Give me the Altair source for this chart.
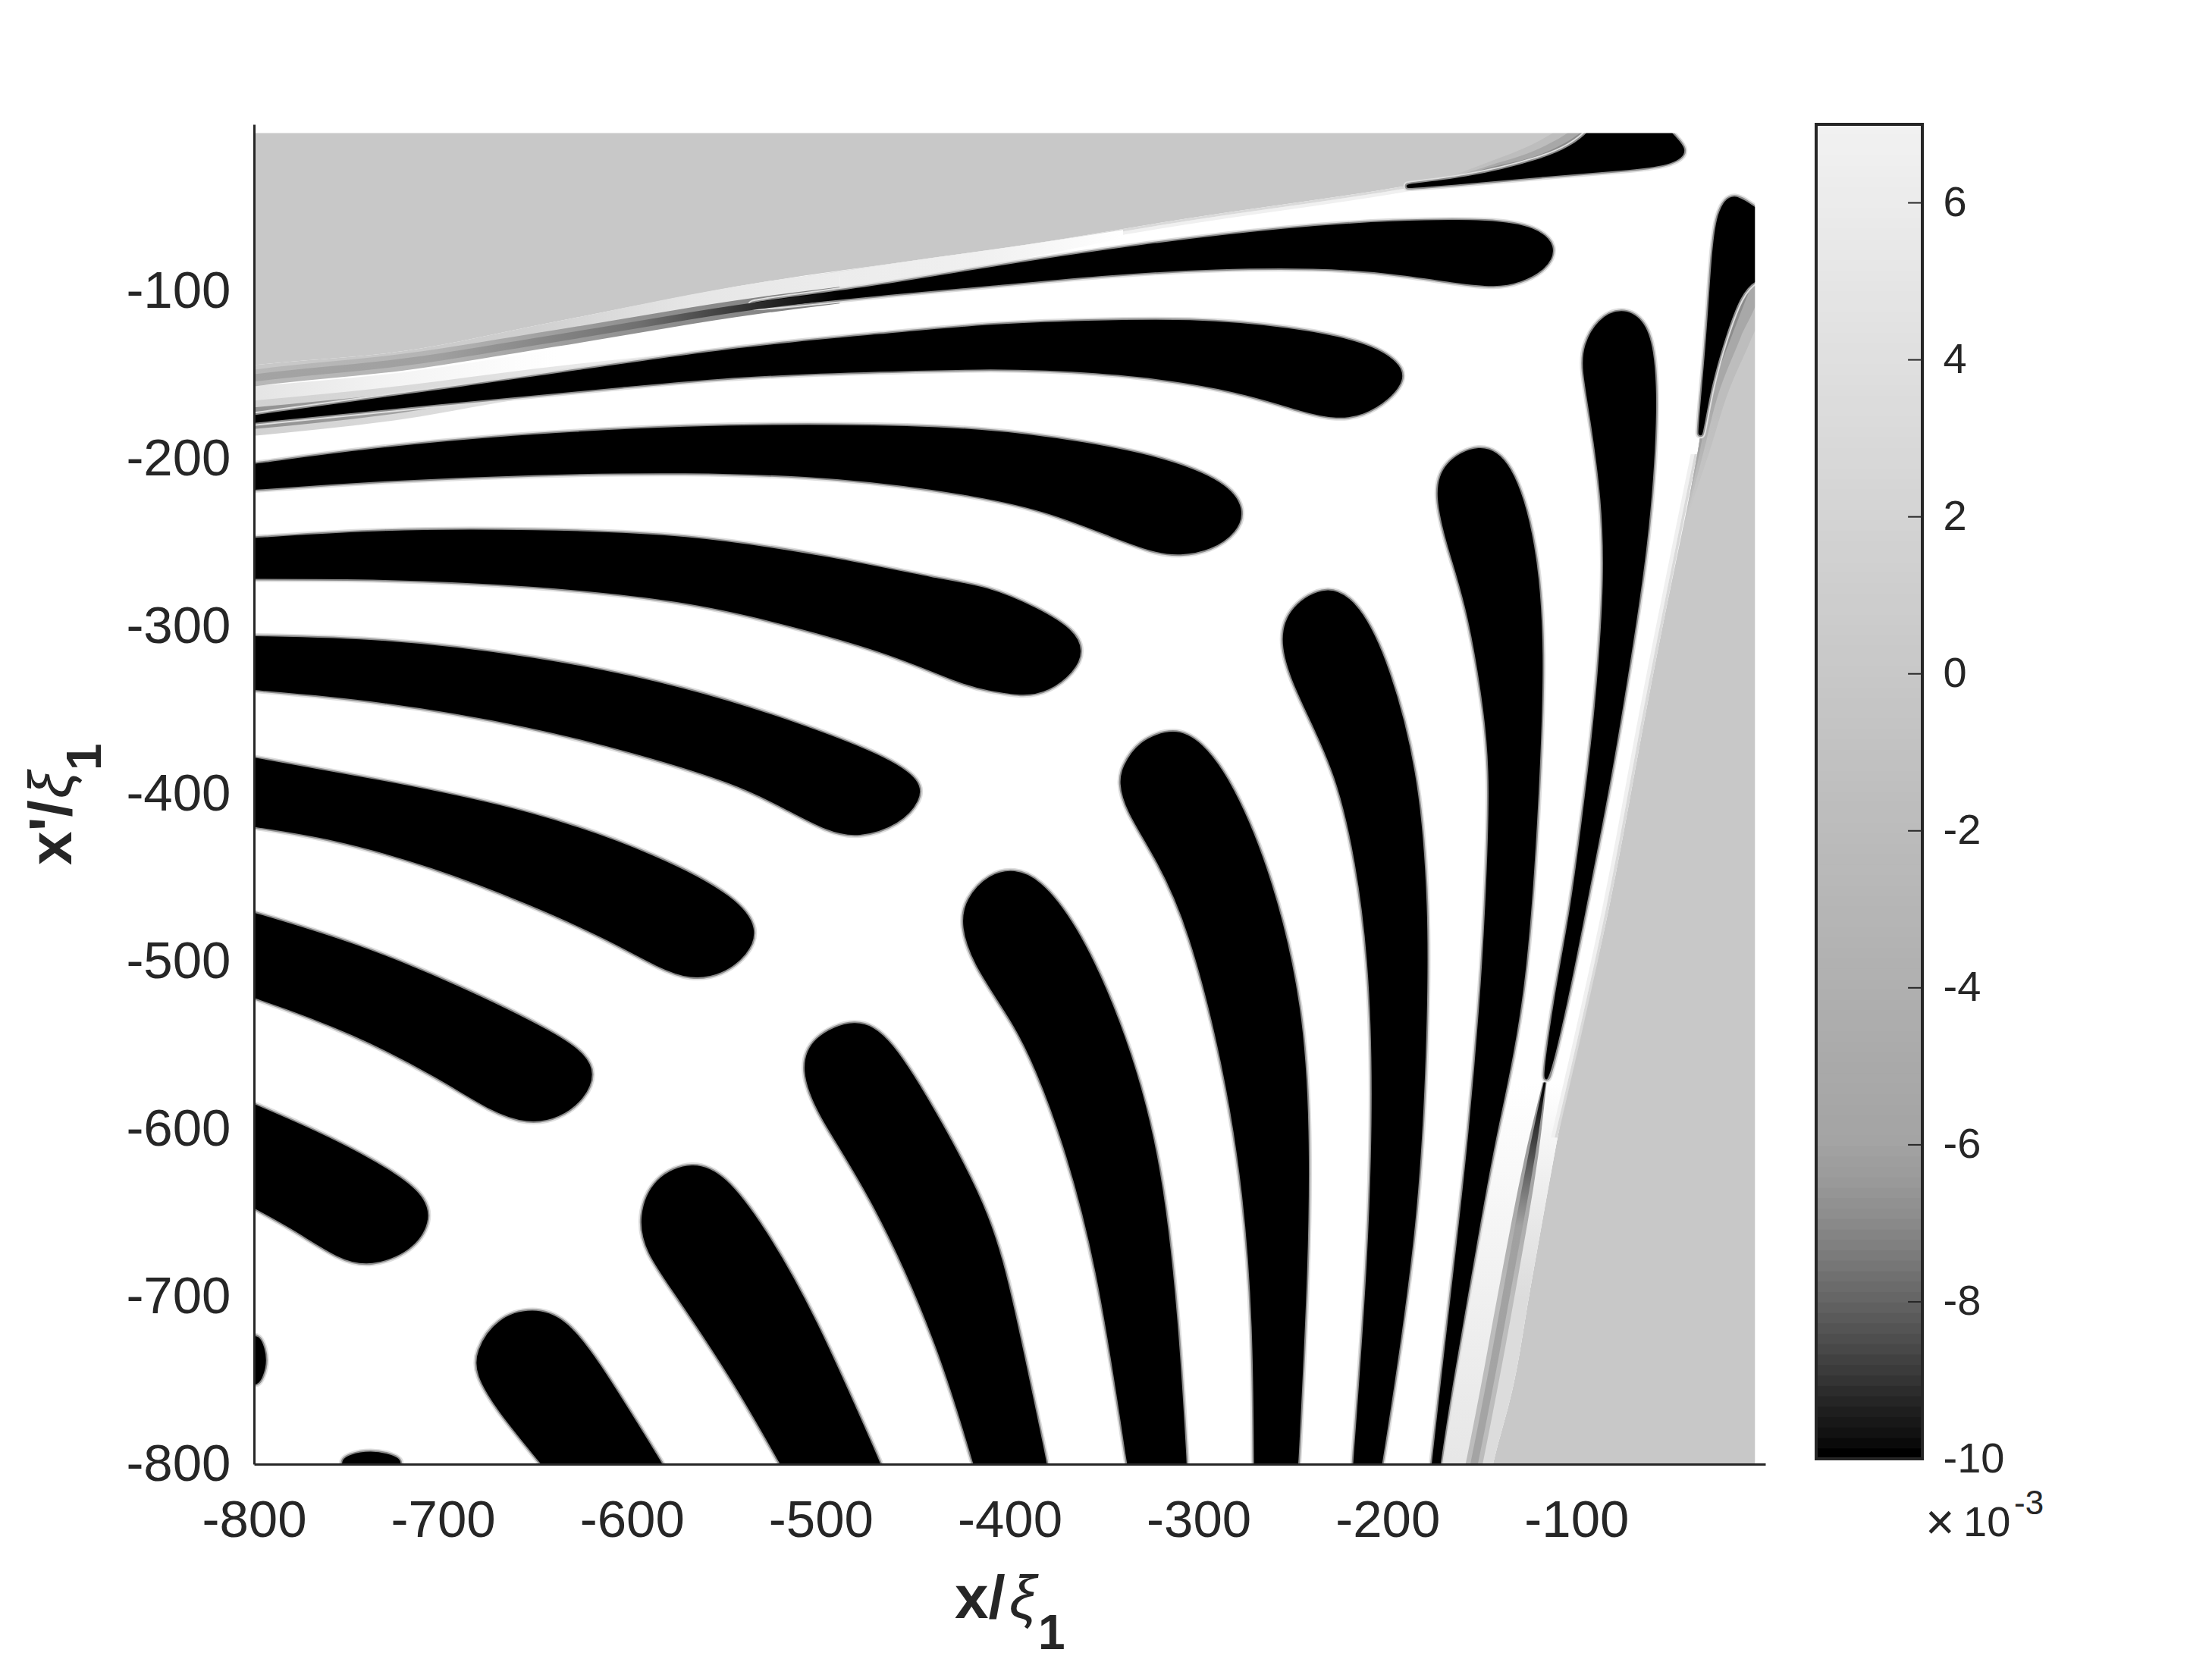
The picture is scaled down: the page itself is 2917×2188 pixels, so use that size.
import altair as alt
import pandas as pd
import numpy as np

# ---------- finger outlines (x, y in axis units) ----------
h0_x = [-92,-88,-55,-52,-40.6,-49.2,-68,-116,-157,-205,-157,-116.4,-103]
h0_y = [-5,5,5,-5,-15.6,-22.9,-26,-29.9,-34.3,-38.5,-33.3,-21.3,-14.3]
h1_x = [-545,-518,-464,-412.2,-331.5,-250.9,-197,-143.3,-121.8,-111,-116.4,-130,-143,-162,-197,-237.4,-291,-345,-412,-464,-518]
h1_y = [-109,-104.5,-96.5,-86.5,-72.8,-62.4,-58.5,-57.7,-62.4,-72.8,-85.8,-93.6,-96.2,-94.1,-87.8,-84.5,-85.2,-88.4,-95.6,-100.5,-107]
h2_x = [-830,-800,-652,-545,-464,-412,-358.4,-304.6,-250.9,-210.5,-194.4,-191.7,-199.8,-213.2,-226.7,-242.8,-277.7,-331.5,-385.3,-412,-464,-545,-598.5,-706,-800,-830]
h2_y = [-179.5,-174.6,-152,-133.8,-126,-120.3,-118.3,-117,-122.2,-131.2,-143,-152,-163.7,-172.8,-174.9,-171.5,-158.5,-148.7,-145.5,-145,-146.3,-149.4,-155.2,-166.3,-177.2,-180.5]
h3_x = [-830,-800,-733,-652,-571.6,-491,-412,-358.4,-318,-285.8,-276.4,-280.4,-293.9,-310,-323.5,-345,-377.2,-412,-491,-571.6,-652,-733,-800,-830]
h3_y = [-208,-204,-193.6,-185.8,-181.1,-180.1,-182.4,-191,-200.1,-214.4,-230,-243,-253.4,-256.5,-254.7,-245.6,-231.3,-221.4,-209.2,-206.6,-207.9,-211.8,-217,-220]
h4_x = [-830,-800,-733,-652,-571.6,-491,-437,-412.2,-385.3,-366.5,-361.9,-366.5,-379.9,-393.4,-412.2,-423.7,-464,-518,-571.6,-652,-733,-800,-830]
h4_y = [-250,-248.2,-243,-243,-245.6,-259.9,-272.9,-276.8,-289.8,-302.8,-314.5,-326.2,-337.9,-340.5,-336.6,-334,-314.5,-297.6,-283.3,-274.2,-270.3,-270.3,-270.3]
h5_x = [-830,-800,-733,-652,-571.6,-504.4,-464,-447.9,-447.9,-458.6,-480.2,-496.3,-517.8,-544.7,-598.5,-652,-733,-800,-830]
h5_y = [-306,-306.7,-308,-318.4,-336.6,-361.3,-379.5,-392.5,-402.9,-417.2,-425,-421.1,-408.1,-392.5,-374.3,-358.7,-343,-336.6,-334]
h6_x = [-830,-800,-733,-652,-585,-544.7,-533.9,-539.3,-552.8,-568.9,-585,-612,-652.3,-706,-759.8,-800,-830]
h6_y = [-373,-379.4,-392.5,-410.7,-438,-462.7,-480.9,-495.2,-506.9,-509.5,-503,-486,-465.3,-441.9,-425,-418.5,-413]
h7_x = [-830,-800,-746,-692.6,-638.8,-625.4,-620.5,-625.4,-638.8,-655,-673.8,-700.7,-746.4,-800,-830]
h7_y = [-462,-471.8,-490,-514.7,-544.5,-556.2,-566.6,-580.9,-592.6,-595.7,-588.7,-569.2,-542,-519.9,-510]
h8_x = [-830,-800,-759.8,-722.2,-710,-707.4,-716.8,-738.3,-754.4,-778.6,-800,-830]
h8_y = [-572,-586.1,-605.6,-629,-642,-655,-671.9,-681,-677,-658.9,-645.9,-628]
h9_x = [-815,-800,-796,-794,-796,-800]
h9_y = [-738,-721.3,-727.8,-738.2,-747.3,-755]
h10_x = [-738,-755.8,-749,-738.3,-727.5,-719.5]
h10_y = [-815,-800,-795,-793,-795,-800]

v1_x = [-625,-646.9,-671,-681.8,-681.8,-671,-652.3,-636.1,-620,-585,-568.6]
v1_y = [-830,-799.8,-766.8,-746,-733,-713.5,-707.5,-713.5,-735.6,-799.8,-830]
v2_x = [-505.5,-520.5,-544.7,-577,-591.8,-595.8,-587.7,-567.6,-551.4,-531.2,-504.4,-469.4,-457.7]
v2_y = [-830,-799.8,-751.2,-696.6,-673.2,-652.4,-629,-619.9,-627.7,-657.6,-709.6,-799.8,-830]
v3_x = [-410.5,-418.3,-437,-472.1,-501.7,-509.7,-504.4,-481.5,-464,-437.1,-410.3,-398.8,-381.3,-375.8]
v3_y = [-830,-799.8,-727.8,-639.4,-590,-564,-545.8,-534.1,-544.5,-595.2,-652.4,-704.4,-799.8,-830]
v4_x = [-333,-336.9,-353,-371.9,-385.3,-396,-418.3,-425,-422.4,-410.3,-397.4,-385.3,-366.5,-342.3,-320.8,-311.4,-307.3,-305.8]
v4_y = [-830,-799.8,-678.4,-603,-564,-538,-501.7,-478.3,-462.7,-448.4,-445.8,-451,-475.7,-532.8,-613.4,-717.4,-799.8,-830]
v5_x = [-269.5,-269.7,-270.2,-275,-285.8,-304.6,-320.8,-338.3,-341,-339.6,-331.5,-312.7,-299.3,-283.1,-261.6,-245.5,-242.2,-242.8,-248.2,-249.5]
v5_y = [-830,-799.8,-717.4,-639.4,-561.4,-478.3,-439.3,-408.1,-392.5,-384.6,-369,-361.2,-369,-392.5,-449.7,-527.6,-600.4,-678.4,-799.8,-830]
v6_x = [-219.2,-217.2,-209.2,-206.5,-209.2,-215.9,-225.3,-237.4,-250.9,-256.2,-250.9,-232,-215.9,-199.8,-183.6,-179.6,-179.6,-183.6,-203.8,-208]
v6_y = [-830,-799.8,-678.4,-574.4,-496.5,-439.3,-392.5,-361.2,-330,-306.7,-288.5,-275.5,-285.9,-322.3,-392.5,-470.5,-522.5,-652.4,-799.8,-830]
v7_x = [-178.5,-175.6,-171.3,-162.1,-156.2,-150,-147.3,-144.6,-147.3,-156.7,-167.5,-174.2,-170.2,-151.4,-135.2,-121.8,-117.8,-120.4,-127.2,-144.1,-153.2,-167.2,-172.9,-176.8]
v7_y = [-830,-799.8,-756,-665.4,-605.4,-522.5,-470.5,-392.5,-353.5,-288.5,-252.1,-220.9,-202.7,-191,-200.1,-249.5,-314.5,-392.5,-522.5,-605.4,-665.4,-756,-799.8,-830]
v8_x = [-120,-104.3,-96.2,-82.8,-73.4,-62.6,-57.8,-59.9,-65.3,-76,-88.2,-95.4,-96.2,-92.2,-85.5,-84.1,-89.5,-93.6,-102,-110.5]
v8_y = [-595,-517.3,-469.4,-392.5,-327.5,-249.5,-171.5,-132.5,-117,-110.5,-117,-132.5,-145.5,-171.5,-223.5,-275.5,-353.5,-392.5,-469.4,-517.3]
v9_x = [-17,-5.4,5,5,-5.4,-14.2,-22.3,-30.4,-36.5,-30.4,-27.7,-25]
v9_y = [-40.3,-52,-55,-90,-91,-101.4,-127.3,-158.5,-203,-132.5,-80.6,-52]

outlines = [(h0_x,h0_y),(h1_x,h1_y),(h2_x,h2_y),(h3_x,h3_y),(h4_x,h4_y),(h5_x,h5_y),(h6_x,h6_y),
            (h7_x,h7_y),(h8_x,h8_y),(h9_x,h9_y),(h10_x,h10_y),(v1_x,v1_y),(v2_x,v2_y),(v3_x,v3_y),
            (v4_x,v4_y),(v5_x,v5_y),(v6_x,v6_y),(v7_x,v7_y),(v8_x,v8_y),(v9_x,v9_y)]

# ---------- upper wedge ----------
top_x  = [-810,-798,-721,-640,-533,-452,-392,-305,-197,-143,-116,-103,-92]
top_g  = [-145,-143.5,-135.4,-117.7,-94.6,-81.5,-72,-56,-38,-27.3,-19.5,-13,-5]
dark_x = [-810,-798,-721,-640,-533,-490]
dark_c = [-153,-151.2,-142,-127.7,-108.2,-102]
dark_g = [-145,-143.5,-135.4,-117.7,-94.6,-88]
lite_x = [-490,-452,-392,-340]
lite_a = [-88,-81.5,-72,-63]
lite_b = [-102,-92,-80,-68]
veil_x = [-810,-721,-640]
veil_a = [-157,-148,-134]
veil_b = [-178,-165,-150]
tail_x = [-810,-721,-652,-570]
tail_a = [-166,-156,-146,-136]
tail_b = [-187,-176,-163,-155]
corner_x = [-190,-150,-116,-103,-92]
corner_g = [-40,-28,-19.5,-13,-5]
corner_w1 = [0,4,12,15,18]
corner_w2 = [0,2,7,9,11]
corner_w3 = [0,1,3,4,5]

# ---------- right wedge ----------
right_y = [-90,-101,-127,-158,-197,-301,-333,-469,-605,-695,-756,-799.5,-830]
right_r = [-5,-14,-22,-30,-36,-54.6,-60.2,-83,-110,-124.4,-134,-144.1,-150]
edge_y = [-197,-301,-333,-469,-605]
edge_r = [-36,-54.6,-60.2,-83,-110]
tail2_y = [-572,-605,-695,-756,-799.5,-830]
tail2_c = [-116.8,-122,-136.5,-146.5,-154.1,-160]
tail2_r = [-104.5,-110,-124.4,-134,-144.1,-150]
tail2_w = [-134,-141,-157,-170,-178,-184]
tail2_o = [1,3,4.5,4.5,4.5,4.5]
tail2_i = [0.5,1.6,2,2,2,2]
nook_y = [-90,-101,-127,-158,-197,-240]
nook_r = [-5,-14,-22,-30,-36,-43]
nook_w1 = [0,16,15,11,6,0]
nook_w2 = [0,10,9,6,3,0]
nook_w3 = [0,5,4,2,1,0]

# ---------- colourbar ----------
bar_vals  = [-10,-9.5,-9,-8.5,-8,-7.5,-7,-6.5,-6,-4,-2,0,2,4,6,7]
bar_grays = ["#000000","#1c1c1c","#383838","#505050","#666666","#7a7a7a","#8c8c8c","#9a9a9a","#a4a4a4","#b0b0b0","#bcbcbc","#c8c8c8","#d4d4d4","#e0e0e0","#ececec","#f2f2f2"]
bar_ticks = [-10,-8,-6,-4,-2,0,2,4,6]
axis_ticks = [-800,-700,-600,-500,-400,-300,-200,-100]

INK = "#262626"
FONT = "Liberation Sans"
W, H = 1993, 1767
dom = alt.Scale(domain=[-800, 0], nice=False, zero=False)
label_expr = "'' + datum.value"
axcfg = dict(values=axis_ticks, ticks=False, grid=False, labelFont=FONT, labelFontSize=69, labelColor=INK,
             domainColor=INK, domainWidth=3, labelExpr=label_expr, title=None, labelFlush=False,
             labelOverlap=False, labelBound=False, zindex=1)
X = alt.X("x:Q", scale=dom, axis=alt.Axis(labelPadding=40, **axcfg))
Y = alt.Y("y:Q", scale=dom, axis=alt.Axis(labelPadding=31, **axcfg))

def grad(stops, horizontal=True):
    n = len(stops) - 1
    g = [alt.GradientStop(offset=i / n, color=c) for i, c in enumerate(stops)]
    if horizontal:
        return alt.Gradient(gradient="linear", stops=g, x1=0, x2=1, y1=0, y2=0)
    return alt.Gradient(gradient="linear", stops=g, x1=0, x2=0, y1=0, y2=1)

def hband(xs, a, b, color):
    d = pd.DataFrame({"x": xs, "y": a, "b": b})
    return alt.Chart(d).mark_area(color=color, clip=True, interpolate="monotone").encode(X, Y, y2="b:Q")

def vband(ys, a, b, color):
    d = pd.DataFrame({"y": ys, "x": a, "b": b})
    return alt.Chart(d).mark_area(color=color, clip=True, orient="horizontal", interpolate="monotone").encode(X, Y, x2="b:Q")

def shift(v, d):
    return list(np.array(v, dtype=float) + np.array(d, dtype=float))

layers = []
# grey wedges
layers.append(hband(top_x, [10]*len(top_x), top_g, "#c8c8c8"))
layers.append(vband(right_y, right_r, [10]*len(right_y), "#c8c8c8"))
# soft lower edge of the upper wedge
layers.append(hband(top_x[4:], shift(top_g[4:], -1.5), shift(top_g[4:], -3.5), "#f0f0f0"))
layers.append(hband(top_x[4:], top_g[4:], shift(top_g[4:], -1.5), "#dadada"))
# light stripe between the grey wedge and the dark line
layers.append(hband(dark_x, dark_g, dark_c, grad(["#c8c8c8","#c8c8c8","#d0d0d0","#e6e6e6","#ececec"])))
layers.append(hband(lite_x, lite_a, lite_b, grad(["#ececec","#f0f0f0","#ffffff"])))
# veil and soft tail under the dark line
layers.append(hband(veil_x, veil_a, veil_b, grad(["#e2e2e2","#f4f4f4","#ffffff"])))
layers.append(hband(tail_x, tail_a, tail_b, grad(["#d0d0d0","#dddddd","#f4f4f4"])))
layers.append(hband(tail_x, shift(tail_a, [-4,-4,-4,-4]), shift(tail_b, [4,4,4,4]), grad(["#909090","#a8a8a8","#e0e0e0"])))
# outer dark line of the upper wedge
layers.append(hband(dark_x, shift(dark_c, 5), shift(dark_c, -5), grad(["#b8b8b8","#b4b4b4","#909090","#808080"])))
# corner shade top right
for w, col in zip((corner_w1, corner_w2, corner_w3), ("#bdbdbd", "#a8a8a8", "#8c8c8c")):
    layers.append(hband(corner_x, corner_g, shift(corner_g, w), grad(["#c8c8c8", col, col])))
# right wedge: light strip, soft line
layers.append(vband(tail2_y, tail2_w, tail2_r, grad(["#ffffff","#f0f0f0","#e4e4e4"], False)))
layers.append(vband(tail2_y, tail2_c, tail2_r, grad(["#ffffff","#dcdcdc","#dcdcdc"], False)))
# soft edge of the right wedge
layers.append(vband(edge_y, shift(edge_r, -3.5), shift(edge_r, -1.5), "#f0f0f0"))
layers.append(vband(edge_y, shift(edge_r, -1.5), edge_r, "#dadada"))
o = np.array(tail2_o)
i2 = np.array(tail2_i)
layers.append(vband(tail2_y, shift(tail2_c, -o), shift(tail2_c, o), grad(["#909090","#bcbcbc","#bcbcbc"], False)))
for w, col in zip((nook_w1, nook_w2, nook_w3), ("#bdbdbd", "#a8a8a8", "#8c8c8c")):
    layers.append(vband(nook_y, nook_r, shift(nook_r, w), grad([col, col, "#c8c8c8"], False)))

# fingers
rows = []
for k, (fx, fy) in enumerate(outlines):
    for i, (a, b) in enumerate(zip(fx, fy)):
        rows.append({"x": a, "y": b, "id": k, "i": i})
fingers = pd.DataFrame(rows)
base = alt.Chart(fingers).encode(X, Y, detail="id:N", order="i:Q")
kw = dict(interpolate="basis-closed", clip=True)
layers.append(base.mark_line(stroke="#dedede", strokeWidth=13, **kw))
layers.append(base.mark_line(stroke="#8c8c8c", strokeWidth=9, **kw))
layers.append(base.mark_line(stroke="#000000", strokeWidth=5, fill="#000000", **kw))

# dark core lines run over the finger tips
layers.append(hband(dark_x, shift(dark_c, 2.2), shift(dark_c, -2.2), grad(["#a4a4a4","#a0a0a0","#707070","#000000"])))
layers.append(vband(tail2_y, shift(tail2_c, -i2), shift(tail2_c, i2), grad(["#000000","#a0a0a0","#a4a4a4","#a4a4a4"], False)))

# image stops short of the axis limits
mask_r = pd.DataFrame({"x": [-5.5], "b": [0], "y": [-800], "t": [0]})
layers.append(alt.Chart(mask_r).mark_rect(color="#ffffff", clip=True).encode(X, alt.X2("b:Q"), Y, alt.Y2("t:Q")))
mask_t = pd.DataFrame({"x": [-800], "b": [0], "y": [-5.2], "t": [0]})
layers.append(alt.Chart(mask_t).mark_rect(color="#ffffff", clip=True).encode(X, alt.X2("b:Q"), Y, alt.Y2("t:Q")))

def label(txt, px, py, size, style="normal", angle=0, weight="bold"):
    return alt.Chart(pd.DataFrame({"t": [txt]})).mark_text(
        text=txt, font=FONT, fontSize=size, fontWeight=weight, fontStyle=style, color=INK,
        align="left", baseline="alphabetic", angle=angle).encode(x=alt.value(px), y=alt.value(py))

layers += [label("x/", 924, 1970, 80), label("\u03be", 996, 1970, 80, "italic", weight="normal"), label("1", 1034, 2011, 64)]
layers += [label("x'/", -241, 977, 80, angle=270), label("\u03be", -241, 889, 80, "italic", 270, "normal"), label("1", -202, 852, 64, angle=270)]

main = alt.layer(*layers).properties(width=W, height=H)

# colourbar
steps = np.arange(-10, 7, 17 / 128)
bar_df = pd.DataFrame({"lo": steps, "hi": steps + 17 / 128 + 0.01, "a": 0, "b": 1})
by = alt.Scale(domain=[-10, 7], nice=False, zero=False)
bx = alt.Scale(domain=[0, 1])
bar_axis = alt.Axis(orient="right", values=bar_ticks, ticks=False, domain=False, grid=False,
                    title=None, labelExpr=label_expr, labelFont=FONT, labelFontSize=56, labelColor=INK,
                    labelPadding=27, labelFlush=False, labelOverlap=False, labelBound=False, labelAlign="left")
BX = alt.X("a:Q", scale=bx, axis=None)
cbar = alt.Chart(bar_df).mark_rect().encode(
    BX, alt.X2("b:Q"), alt.Y("lo:Q", scale=by, axis=bar_axis), alt.Y2("hi:Q"),
    color=alt.Color("lo:Q", legend=None, scale=alt.Scale(domain=bar_vals, range=bar_grays)))
tick_df = pd.DataFrame({"lo": bar_ticks, "a": 0.865, "b": 1})
cticks = alt.Chart(tick_df).mark_rule(color=INK, strokeWidth=2).encode(
    BX, alt.X2("b:Q"), alt.Y("lo:Q", scale=by, axis=bar_axis))
frame = alt.Chart(pd.DataFrame({"a": [0], "b": [1], "lo": [-10], "hi": [7]})).mark_rect(
    fill=None, stroke=INK, strokeWidth=4).encode(
    BX, alt.X2("b:Q"), alt.Y("lo:Q", scale=by, axis=bar_axis), alt.Y2("hi:Q"))
exp = [label("\u00d7", 144, 1866, 66, weight="normal"), label("10", 194, 1862, 56, weight="normal"),
       label("-3", 261, 1833, 44, weight="normal")]
bar = alt.layer(cbar, cticks, frame, *exp).properties(width=140, height=1760)

chart = alt.hconcat(main, bar, spacing=65).resolve_scale(color="independent").configure_view(stroke=None).properties(
    padding={"left": 22, "top": 154, "right": 5, "bottom": 5}, background="#ffffff")
chart.save("out.html", embed_options={"renderer": "svg", "actions": False})
